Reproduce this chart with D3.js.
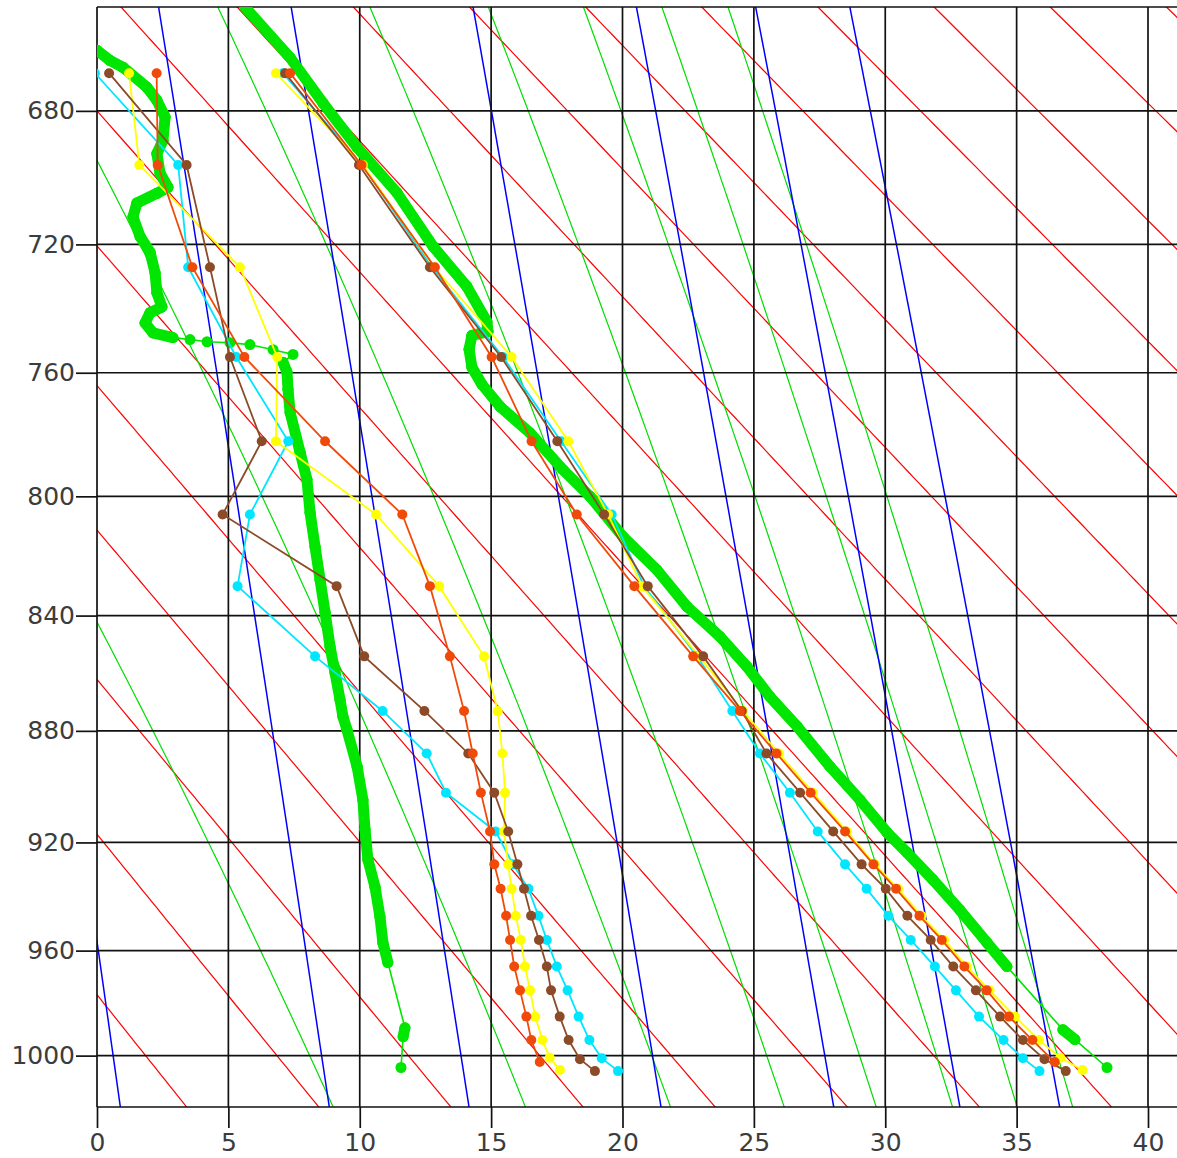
<!DOCTYPE html>
<html><head><meta charset="utf-8">
<script src="https://cdn.jsdelivr.net/npm/d3@7"></script>
<style>body{margin:0;background:#fff}svg{display:block}</style>
</head><body>
<svg id="chart" width="1177" height="1158"></svg>
<script>
// ---------- axis ticks ----------
const tempTicks = [0,5,10,15,20,25,30,35,40];
const pressureTicks = [680,720,760,800,840,880,920,960,1000];

// ---------- background isopleths ----------
const dryAdiabatsK = [275,280,285,290,295,300,305,310,315,320,325,330,335,340,345,350,355];
const moistAdiabatsThetaE = [300,320,340,360,380,400,420,440];
const mixingRatiosGkg = [4,7,10,16,24,32,40];

// ---------- point soundings (hPa, °C) ----------
const levels = [669,696,727,755,782,806,830,854,873,888,902,916,928,937,947,956,966,975,985,994];

const yellowP  = levels.concat([1000.8,1005.6]);
const yellowT  = [6.81,10.12,12.83,15.78,17.94,19.45,20.74,22.91,24.59,25.96,27.25,28.54,29.61,30.49,31.38,32.24,33.11,33.97,34.94,35.85,36.66,37.51];
const yellowTd = [1.22,1.61,5.44,6.86,6.81,10.62,13.02,14.73,15.25,15.43,15.53,15.49,15.65,15.78,15.94,16.13,16.29,16.48,16.68,16.95,17.23,17.62];

const brownP  = levels.concat([1001.4,1006.0]);
const brownT  = [7.16,9.97,12.67,15.38,17.52,19.30,20.96,23.07,24.54,25.48,26.76,28.02,29.10,30.02,30.84,31.73,32.59,33.45,34.37,35.24,36.06,36.87];
const brownTd = [0.46,3.41,4.30,5.06,6.27,4.78,9.12,10.17,12.46,14.13,15.12,15.65,16.00,16.25,16.52,16.82,17.12,17.28,17.61,17.95,18.38,18.95];

const cyanP  = levels.concat([1001.0,1006.0]);
const cyanT  = [7.08,10.09,12.75,15.45,17.66,19.59,20.82,22.84,24.18,25.23,26.37,27.43,28.47,29.29,30.12,30.97,31.89,32.69,33.57,34.50,35.24,35.87];
const cyanTd = [-0.08,3.09,3.47,5.30,7.28,5.82,5.35,8.30,10.87,12.55,13.28,15.17,15.83,16.42,16.80,17.12,17.50,17.91,18.33,18.74,19.21,19.83];

const orangeP  = levels.concat([1002.5]);
const orangeT  = [7.35,10.07,12.86,15.02,16.54,18.26,20.45,22.69,24.47,25.86,27.16,28.47,29.55,30.41,31.30,32.15,33.01,33.86,34.71,35.60,36.45];
const orangeTd = [2.27,2.31,3.63,5.61,8.68,11.62,12.67,13.43,13.97,14.30,14.61,14.96,15.12,15.36,15.57,15.72,15.88,16.10,16.34,16.53,16.85];

// ---------- high-resolution (green) sounding ----------
const greenTempP = [650,664.5,677.7,690.8,704.4,720.6,733.0,743.9,747.0,748.2,752.6,758.3,763.7,770.8,779.3,791.3,800,813.4,824.5,836.9,847.2,857.6,868.0,878.4,892.7,904.6,916.4,923.7,933.7,944.8,957.0,966.0,990.0,993.8,1004.6];
const greenTempT = [5.63,7.35,8.60,9.90,11.42,12.79,14.08,14.84,14.88,14.27,14.16,14.27,14.65,15.34,16.48,17.74,18.76,20.02,21.31,22.45,23.71,24.74,25.61,26.64,27.90,29.04,30.07,30.83,31.82,32.84,33.87,34.63,36.76,37.22,38.44];
const greenDewP = [662.4,665.3,667.3,673.1,676.9,681.8,688.7,692.6,698.5,702.7,704.5,707.4,711.6,717.6,722.4,728.7,734.9,739.3,741.1,744.3,747.4,748.9,749.5,750.2,750.5,751.1,752.7,754.2,756.7,759.8,765.3,772.7,785.6,794.5,805.4,816.8,827.9,838.9,850.7,859.7,869.1,875.0,879.5,892.7,904.6,915.3,926.3,936.3,947.4,957.0,964.5,989.3,992.7,1004.6];
const greenDewT = [0.0,0.49,0.99,1.90,2.28,2.59,2.51,2.28,2.40,2.70,2.28,1.52,1.37,1.64,2.02,2.21,2.28,2.47,2.02,1.83,2.13,2.89,3.54,4.19,5.06,5.82,6.70,7.46,7.08,7.23,7.27,7.35,7.73,7.99,8.11,8.30,8.49,8.68,8.87,9.06,9.25,9.36,9.51,9.90,10.12,10.20,10.31,10.58,10.77,10.88,11.07,11.72,11.65,11.57];
// segments (start index) drawn only as thin connector between beads
const greenTempSparse = [31,33];
const greenDewSparse = [21,22,23,24,25,26,27,50,52];

// ---------- layout ----------
const svg = d3.select('#chart');
const L = 97, R = 1177, T = 7, B = 1107;
const x = d3.scaleLinear().domain([0,40]).range([97,1148]);
const y = d3.scalePow().exponent(0.286).domain([650,1020]).range([T,B]);

svg.append('defs').append('clipPath').attr('id','plot')
  .append('rect').attr('x',L).attr('y',T).attr('width',R-L).attr('height',B-T);

const pSamples = d3.range(640, 1031, 2);
const line = d3.line().x(d=>x(d[0])).y(d=>y(d[1]));
const iso = svg.append('g').attr('clip-path','url(#plot)');

// dry adiabats
dryAdiabatsK.forEach(th=>{
  const pts = pSamples.map(p=>[th*Math.pow(p/1000,0.286)-273.15, p]);
  iso.append('path').attr('d',line(pts)).attr('fill','none').attr('stroke','#ff0000').attr('stroke-width',1.2);
});
// moist (pseudo) adiabats, constant theta-e (Bolton)
function es(tc){ return 6.112*Math.exp(17.67*tc/(tc+243.5)); }
function thetaE(tc,p){
  const tk=tc+273.15, e=es(tc), r=622*e/(p-e);
  return tk*Math.pow(1000/p,0.2854*(1-0.00028*r))*Math.exp((3.376/tk-0.00254)*r*(1+0.00081*r));
}
function solveT(the,p){
  let lo=-50, hi=55;
  for(let i=0;i<60;i++){ const m=(lo+hi)/2; if(thetaE(m,p)<the) lo=m; else hi=m; }
  return (lo+hi)/2;
}
moistAdiabatsThetaE.forEach(the=>{
  const pts = pSamples.map(p=>[solveT(the,p), p]);
  iso.append('path').attr('d',line(pts)).attr('fill','none').attr('stroke','#00dd00').attr('stroke-width',1.2);
});
// saturation mixing ratio lines
mixingRatiosGkg.forEach(w=>{
  const pts = pSamples.map(p=>{ const e=w*p/(622+w), l=Math.log(e/6.112); return [243.5*l/(17.67-l), p]; });
  iso.append('path').attr('d',line(pts)).attr('fill','none').attr('stroke','#0000ff').attr('stroke-width',1.5);
});

// grid
const grid = svg.append('g').attr('stroke','#111').attr('stroke-width',1.7);
tempTicks.forEach(t=>grid.append('line').attr('x1',x(t)).attr('x2',x(t)).attr('y1',T).attr('y2',B));
pressureTicks.forEach(p=>grid.append('line').attr('x1',L).attr('x2',R).attr('y1',y(p)).attr('y2',y(p)));
grid.append('line').attr('x1',L).attr('x2',R).attr('y1',T).attr('y2',T);
grid.append('line').attr('x1',L).attr('x2',R).attr('y1',B).attr('y2',B);

// axes
const fontFam = '"DejaVu Sans", sans-serif';
const xAxis = svg.append('g').attr('transform',`translate(0,${B})`)
  .call(d3.axisBottom(x).tickValues(tempTicks).tickSize(21).tickSizeOuter(0).tickPadding(5.5).tickFormat(d3.format('d')));
const yAxis = svg.append('g').attr('transform',`translate(${L},0)`)
  .call(d3.axisLeft(y).tickValues(pressureTicks).tickSize(21).tickSizeOuter(0).tickPadding(1).tickFormat(d3.format('d')));
[xAxis,yAxis].forEach(a=>{
  a.select('.domain').remove();
  a.selectAll('.tick line').attr('stroke','#111').attr('stroke-width',1.7);
  a.selectAll('.tick text').attr('fill','#3c3c3c').style('font-family',fontFam).style('font-size','25px');
});

// soundings
const plot = svg.append('g').attr('clip-path','url(#plot)');

function greenProfile(P,Tv,sparse){
  const pts = P.map((p,i)=>[Tv[i],p]);
  const g = plot.append('g');
  g.append('path').attr('d',line(pts)).attr('fill','none').attr('stroke','#00e600').attr('stroke-width',1.6);
  for(let i=0;i<pts.length-1;i++){
    if(sparse.includes(i)) continue;
    g.append('path').attr('d',line([pts[i],pts[i+1]])).attr('fill','none')
      .attr('stroke','#00e600').attr('stroke-width',11).attr('stroke-linecap','round').attr('stroke-linejoin','round');
  }
  g.selectAll('circle').data(pts).join('circle')
    .attr('cx',d=>x(d[0])).attr('cy',d=>y(d[1])).attr('r',5.5).attr('fill','#00e600');
}
greenProfile(greenTempP,greenTempT,greenTempSparse);
greenProfile(greenDewP,greenDewT,greenDewSparse);

function pointProfile(P,Tv,color){
  const pts = P.map((p,i)=>[Tv[i],p]);
  const g = plot.append('g');
  g.append('path').attr('d',line(pts)).attr('fill','none').attr('stroke',color).attr('stroke-width',1.8);
  g.selectAll('circle').data(pts).join('circle')
    .attr('cx',d=>x(d[0])).attr('cy',d=>y(d[1])).attr('r',5).attr('fill',color);
}
const series = [
  {P:cyanP,T:cyanT,Td:cyanTd,c:'#00e6ff'},
  {P:yellowP,T:yellowT,Td:yellowTd,c:'#ffff00'},
  {P:brownP,T:brownT,Td:brownTd,c:'#8c4b28'},
  {P:orangeP,T:orangeT,Td:orangeTd,c:'#f04a0a'}
];
series.forEach(s=>{ pointProfile(s.P,s.Td,s.c); pointProfile(s.P,s.T,s.c); });
</script>
</body></html>
